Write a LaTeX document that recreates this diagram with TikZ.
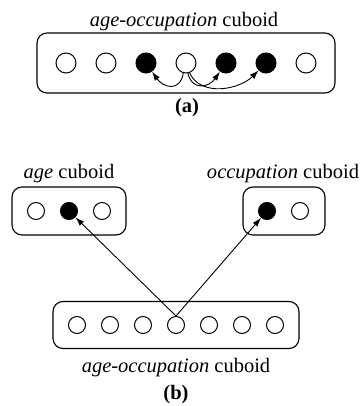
\documentclass[tikz,border=0pt]{standalone}
\usepackage{fontspec}
\setmainfont{Liberation Serif}
\usetikzlibrary{arrows.meta}
\begin{document}
\begin{tikzpicture}[x=1pt,y=-1pt,
  every node/.style={font=\fontsize{20.5}{24}\selectfont},
  box/.style={draw, line width=1.1pt, rounded corners=10pt, inner sep=0pt},
  wbig/.style={circle, draw, line width=1pt, minimum size=20pt, inner sep=0pt},
  bbig/.style={wbig, fill=black},
  wsm/.style={circle, draw, line width=1pt, minimum size=17pt, inner sep=0pt},
  bsm/.style={wsm, fill=black},
  arr/.style={line width=0.9pt, -{Latex[length=9pt,width=6pt]}},
  lab/.style={anchor=base, inner sep=0pt}]
\useasboundingbox (0,0) rectangle (363,406);
% ---------- (a) ----------
\node[lab] (ta) at (184,27) {\textit{age-occupation} cuboid};
\node[box, minimum width=298pt, minimum height=60pt] (A) at (186,63) {};
\node[wbig] (a1) at (66,63) {};
\node[wbig] (a2) at (106,63) {};
\node[bbig] (a3) at (146,63) {};
\node[wbig] (a4) at (186,63) {};
\node[bbig] (a5) at (226,63) {};
\node[bbig] (a6) at (266,63) {};
\node[wbig] (a7) at (306,63) {};
\draw[arr] (a4.255) to[out=-100, in=-55, looseness=1.6] (a3);
\draw[arr] (a4.280) to[out=-75, in=-125, looseness=1.5] (a5);
\draw[arr] (a4.290) to[out=-65, in=-135, looseness=1.0] (a6);
\node[lab] (la) at (187,113) {\textbf{(a)}};
% ---------- (b) ----------
\node[lab] (tg) at (69,178) {\textit{age} cuboid};
\node[box, minimum width=114pt, minimum height=48pt] (G) at (69,211) {};
\node[wsm] (g1) at (36,211) {};
\node[bsm] (g2) at (69,211) {};
\node[wsm] (g3) at (102,211) {};
\node[lab] (to) at (283,178) {\textit{occupation} cuboid};
\node[box, minimum width=82pt, minimum height=48pt] (O) at (284,211) {};
\node[bsm] (o1) at (267,211) {};
\node[wsm] (o2) at (300,211) {};
\node[box, minimum width=246pt, minimum height=47pt] (M) at (176,325) {};
\node[wsm] (m1) at (77,325) {};
\node[wsm] (m2) at (110,325) {};
\node[wsm] (m3) at (143,325) {};
\node[wsm] (m4) at (176,325) {};
\node[wsm] (m5) at (209,325) {};
\node[wsm] (m6) at (242,325) {};
\node[wsm] (m7) at (275,325) {};
\draw[arr] (m4.north) -- (g2);
\draw[arr] (m4.north) -- (o1);
\node[lab] (tm) at (176,372) {\textit{age-occupation} cuboid};
\node[lab] (lb) at (176,399) {\textbf{(b)}};
\end{tikzpicture}
\end{document}
